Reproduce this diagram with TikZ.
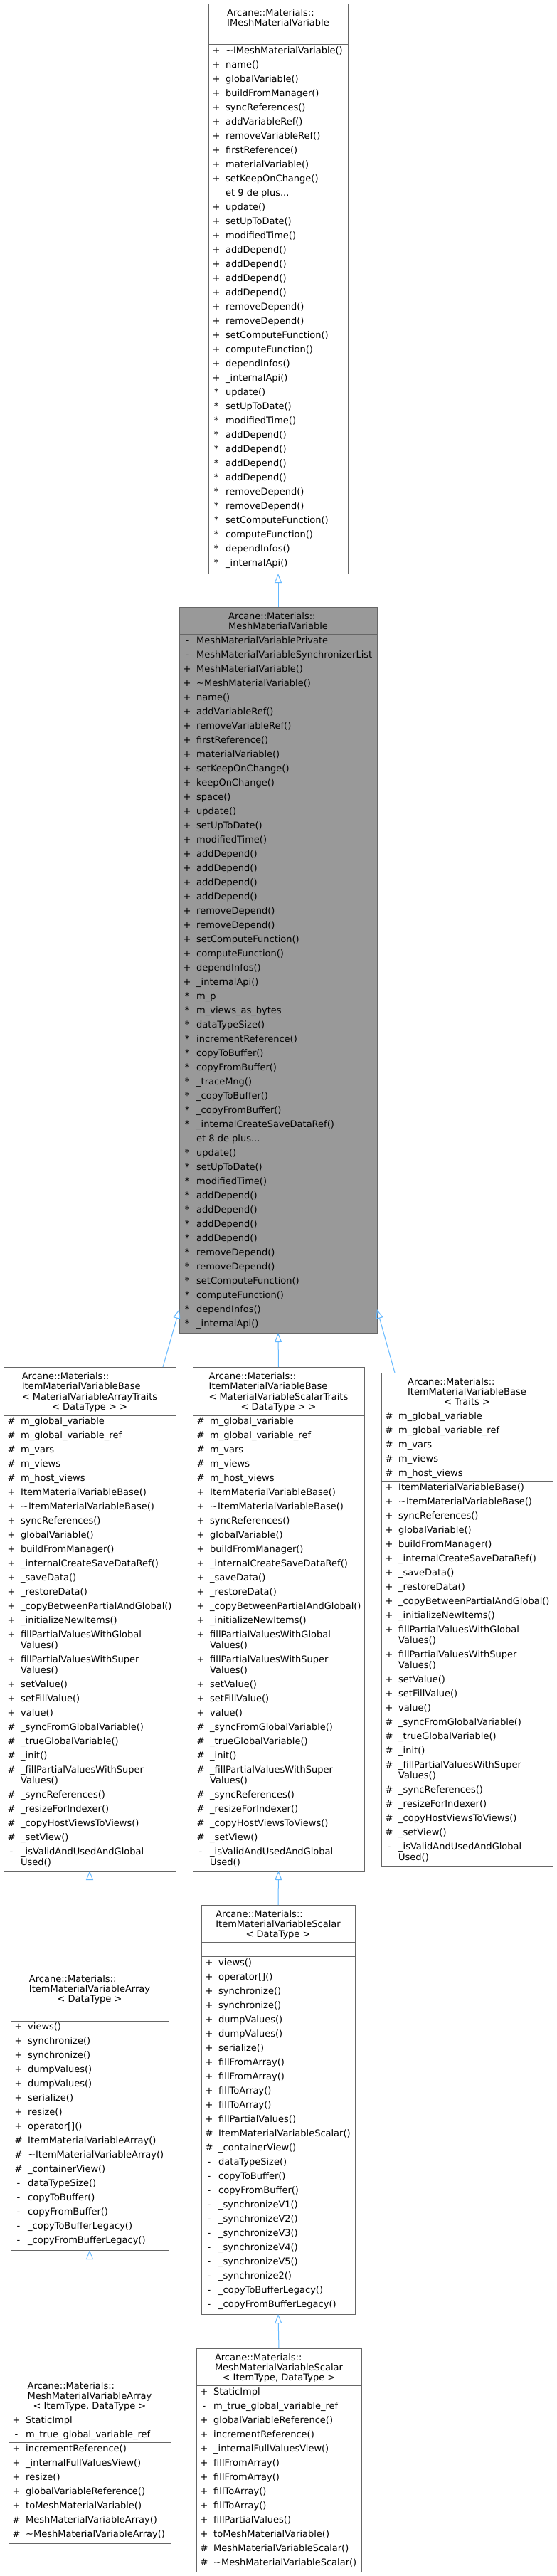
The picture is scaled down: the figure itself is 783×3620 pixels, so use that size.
\documentclass[tikz,border=0pt]{standalone}
\usepackage{fontspec}
\setmainfont{DejaVu Sans}
\usetikzlibrary{arrows.meta}
\definecolor{edgec}{HTML}{63B8FF}
\definecolor{bordc}{HTML}{666666}
\definecolor{grayf}{HTML}{999999}
\newcommand\clsfont{\fontsize{13}{14.7}\selectfont}
\newcommand\tld{\textasciitilde}
\newcount\ry
\newcount\nn
\def\rx{0}
\newcommand\rows[2]{\xdef\rx{#1}\global\ry=#2\relax}
\newcommand\mr[2]{\global\advance\nn by 1
  \node[sym] (s\the\nn) at (\rx+11,\the\ry) {#1};
  \node[txt] (t\the\nn) at (\rx+24,\the\ry) {#2};
  \global\advance\ry by 20\relax}
\newcommand\mrr[3]{\global\advance\nn by 1
  \node[sym] (s\the\nn) at (\rx+11,\the\ry) {#1};
  \node[txt] (t\the\nn) at (\rx+24,\the\ry) {#2};
  \global\advance\ry by 15\relax
  \node[txt] (u\the\nn) at (\rx+24,\the\ry) {#3};
  \global\advance\ry by 20\relax}
\newcommand\sepl[2]{\draw[sepst] ([yshift=-#2pt]#1.north west) -- ([yshift=-#2pt]#1.north east);}
\newcommand\baseattrs{\mr{\#}{m\_global\_variable}\mr{\#}{m\_global\_variable\_ref}\mr{\#}{m\_vars}\mr{\#}{m\_views}\mr{\#}{m\_host\_views}}
\newcommand\basemethods{%
\mr{+}{ItemMaterialVariableBase()}
\mr{+}{\tld ItemMaterialVariableBase()}
\mr{+}{syncReferences()}
\mr{+}{globalVariable()}
\mr{+}{buildFromManager()}
\mr{+}{\_internalCreateSaveDataRef()}
\mr{+}{\_saveData()}
\mr{+}{\_restoreData()}
\mr{+}{\_copyBetweenPartialAndGlobal()}
\mr{+}{\_initializeNewItems()}
\mrr{+}{fillPartialValuesWithGlobal}{Values()}
\mrr{+}{fillPartialValuesWithSuper}{Values()}
\mr{+}{setValue()}
\mr{+}{setFillValue()}
\mr{+}{value()}
\mr{\#}{\_syncFromGlobalVariable()}
\mr{\#}{\_trueGlobalVariable()}
\mr{\#}{\_init()}
\mrr{\#}{\_fillPartialValuesWithSuper}{Values()}
\mr{\#}{\_syncReferences()}
\mr{\#}{\_resizeForIndexer()}
\mr{\#}{\_copyHostViewsToViews()}
\mr{\#}{\_setView()}
\mrr{-}{\_isValidAndUsedAndGlobal}{Used()}
}
\newcommand\depends[1]{%
\mr{#1}{update()}
\mr{#1}{setUpToDate()}
\mr{#1}{modifiedTime()}
\mr{#1}{addDepend()}
\mr{#1}{addDepend()}
\mr{#1}{addDepend()}
\mr{#1}{addDepend()}
\mr{#1}{removeDepend()}
\mr{#1}{removeDepend()}
\mr{#1}{setComputeFunction()}
\mr{#1}{computeFunction()}
\mr{#1}{dependInfos()}
\mr{#1}{\_internalApi()}
}
\tikzset{
  box/.style={draw=bordc, line width=1pt, inner sep=0pt, outer sep=0pt, anchor=north west, fill=white},
  sepst/.style={draw=bordc, line width=1pt},
  sym/.style={inner sep=0pt, text height=9.5pt, text depth=0pt, font=\clsfont},
  txt/.style={anchor=west, inner sep=0pt, text height=9.5pt, text depth=0pt, font=\clsfont},
  ttlst/.style={anchor=north, inner sep=0pt, align=left, font=\clsfont},
  inh/.style={draw=edgec, line width=1pt, -{Triangle[open, length=13pt, width=10pt]}}
}
\begin{document}
\begin{tikzpicture}[x=1pt, y=-1pt]
\fill[white] (0,0) rectangle (783,3620);
\useasboundingbox (0,0) rectangle (783,3620);

% ---------- boxes ----------
\node[box, minimum width=196pt, minimum height=801pt] (imv) at (293,5) {};
\node[box, fill=grayf, minimum width=278pt, minimum height=1020pt] (mmv) at (252,853) {};
\node[box, minimum width=242pt, minimum height=708pt] (ba) at (5,1921) {};
\node[box, minimum width=241pt, minimum height=708pt] (bs) at (271,1921) {};
\node[box, minimum width=241pt, minimum height=693pt] (bt) at (536,1929) {};
\node[box, minimum width=222pt, minimum height=394pt] (ia) at (15,2768) {};
\node[box, minimum width=216pt, minimum height=575pt] (is) at (283,2677) {};
\node[box, minimum width=228pt, minimum height=234pt] (ma) at (12,3340) {};
\node[box, minimum width=232pt, minimum height=314pt] (ms) at (276,3300) {};

% ---------- separators ----------
\sepl{imv}{38}\sepl{imv}{57}
\sepl{mmv}{38}\sepl{mmv}{78}
\sepl{ba}{68}\sepl{ba}{168}
\sepl{bs}{68}\sepl{bs}{168}
\sepl{bt}{52}\sepl{bt}{152}
\sepl{ia}{52}\sepl{ia}{72}
\sepl{is}{52}\sepl{is}{72}
\sepl{ma}{52}\sepl{ma}{92}
\sepl{ms}{52}\sepl{ms}{92}

% ---------- titles ----------
\node[ttlst] (imvT) at ([yshift=-7pt]imv.north) {Arcane::Materials::\\IMeshMaterialVariable};
\node[ttlst] (mmvT) at ([yshift=-7pt]mmv.north) {Arcane::Materials::\\MeshMaterialVariable};
\node[ttlst] (baT) at ([yshift=-7pt]ba.north) {Arcane::Materials::\\ItemMaterialVariableBase\\< MaterialVariableArrayTraits};
\node[sym] (baC) at ([yshift=-56pt]ba.north) {< DataType > >};
\node[ttlst] (bsT) at ([yshift=-7pt]bs.north) {Arcane::Materials::\\ItemMaterialVariableBase\\< MaterialVariableScalarTraits};
\node[sym] (bsC) at ([yshift=-56pt]bs.north) {< DataType > >};
\node[ttlst] (btT) at ([yshift=-7pt]bt.north) {Arcane::Materials::\\ItemMaterialVariableBase};
\node[sym] (btC) at ([yshift=-41pt]bt.north) {< Traits >};
\node[ttlst] (iaT) at ([yshift=-7pt]ia.north) {Arcane::Materials::\\ItemMaterialVariableArray};
\node[sym] (iaC) at ([yshift=-41pt]ia.north) {< DataType >};
\node[ttlst] (isT) at ([yshift=-7pt]is.north) {Arcane::Materials::\\ItemMaterialVariableScalar};
\node[sym] (isC) at ([yshift=-41pt]is.north) {< DataType >};
\node[ttlst] (maT) at ([yshift=-7pt]ma.north) {Arcane::Materials::\\MeshMaterialVariableArray};
\node[sym] (maC) at ([yshift=-41pt]ma.north) {< ItemType, DataType >};
\node[ttlst] (msT) at ([yshift=-7pt]ms.north) {Arcane::Materials::\\MeshMaterialVariableScalar};
\node[sym] (msC) at ([yshift=-41pt]ms.north) {< ItemType, DataType >};

% ---------- IMeshMaterialVariable ----------
\rows{293}{71}
\mr{+}{\tld IMeshMaterialVariable()}
\mr{+}{name()}
\mr{+}{globalVariable()}
\mr{+}{buildFromManager()}
\mr{+}{syncReferences()}
\mr{+}{addVariableRef()}
\mr{+}{removeVariableRef()}
\mr{+}{firstReference()}
\mr{+}{materialVariable()}
\mr{+}{setKeepOnChange()}
\mr{}{et 9 de plus...}
\depends{+}
\depends{*}

% ---------- MeshMaterialVariable ----------
\rows{252}{900}
\mr{-}{MeshMaterialVariablePrivate}
\mr{-}{MeshMaterialVariableSynchronizerList}
\rows{252}{940}
\mr{+}{MeshMaterialVariable()}
\mr{+}{\tld MeshMaterialVariable()}
\mr{+}{name()}
\mr{+}{addVariableRef()}
\mr{+}{removeVariableRef()}
\mr{+}{firstReference()}
\mr{+}{materialVariable()}
\mr{+}{setKeepOnChange()}
\mr{+}{keepOnChange()}
\mr{+}{space()}
\depends{+}
\mr{*}{m\_p}
\mr{*}{m\_views\_as\_bytes}
\mr{*}{dataTypeSize()}
\mr{*}{incrementReference()}
\mr{*}{copyToBuffer()}
\mr{*}{copyFromBuffer()}
\mr{*}{\_traceMng()}
\mr{*}{\_copyToBuffer()}
\mr{*}{\_copyFromBuffer()}
\mr{*}{\_internalCreateSaveDataRef()}
\mr{}{et 8 de plus...}
\depends{*}

% ---------- ItemMaterialVariableBase boxes ----------
\rows{5}{1997}\baseattrs
\rows{5}{2097}\basemethods
\rows{271}{1997}\baseattrs
\rows{271}{2097}\basemethods
\rows{536}{1990}\baseattrs
\rows{536}{2090}\basemethods

% ---------- ItemMaterialVariableArray ----------
\rows{15}{2848}
\mr{+}{views()}
\mr{+}{synchronize()}
\mr{+}{synchronize()}
\mr{+}{dumpValues()}
\mr{+}{dumpValues()}
\mr{+}{serialize()}
\mr{+}{resize()}
\mr{+}{operator[]()}
\mr{\#}{ItemMaterialVariableArray()}
\mr{\#}{\tld ItemMaterialVariableArray()}
\mr{\#}{\_containerView()}
\mr{-}{dataTypeSize()}
\mr{-}{copyToBuffer()}
\mr{-}{copyFromBuffer()}
\mr{-}{\_copyToBufferLegacy()}
\mr{-}{\_copyFromBufferLegacy()}

% ---------- ItemMaterialVariableScalar ----------
\rows{283}{2758}
\mr{+}{views()}
\mr{+}{operator[]()}
\mr{+}{synchronize()}
\mr{+}{synchronize()}
\mr{+}{dumpValues()}
\mr{+}{dumpValues()}
\mr{+}{serialize()}
\mr{+}{fillFromArray()}
\mr{+}{fillFromArray()}
\mr{+}{fillToArray()}
\mr{+}{fillToArray()}
\mr{+}{fillPartialValues()}
\mr{\#}{ItemMaterialVariableScalar()}
\mr{\#}{\_containerView()}
\mr{-}{dataTypeSize()}
\mr{-}{copyToBuffer()}
\mr{-}{copyFromBuffer()}
\mr{-}{\_synchronizeV1()}
\mr{-}{\_synchronizeV2()}
\mr{-}{\_synchronizeV3()}
\mr{-}{\_synchronizeV4()}
\mr{-}{\_synchronizeV5()}
\mr{-}{\_synchronize2()}
\mr{-}{\_copyToBufferLegacy()}
\mr{-}{\_copyFromBufferLegacy()}

% ---------- MeshMaterialVariableArray ----------
\rows{12}{3401}
\mr{+}{StaticImpl}
\mr{-}{m\_true\_global\_variable\_ref}
\rows{12}{3441}
\mr{+}{incrementReference()}
\mr{+}{\_internalFullValuesView()}
\mr{+}{resize()}
\mr{+}{globalVariableReference()}
\mr{+}{toMeshMaterialVariable()}
\mr{\#}{MeshMaterialVariableArray()}
\mr{\#}{\tld MeshMaterialVariableArray()}

% ---------- MeshMaterialVariableScalar ----------
\rows{276}{3361}
\mr{+}{StaticImpl}
\mr{-}{m\_true\_global\_variable\_ref}
\rows{276}{3401}
\mr{+}{globalVariableReference()}
\mr{+}{incrementReference()}
\mr{+}{\_internalFullValuesView()}
\mr{+}{fillFromArray()}
\mr{+}{fillFromArray()}
\mr{+}{fillToArray()}
\mr{+}{fillToArray()}
\mr{+}{fillPartialValues()}
\mr{+}{toMeshMaterialVariable()}
\mr{\#}{MeshMaterialVariableScalar()}
\mr{\#}{\tld MeshMaterialVariableScalar()}

% ---------- inheritance arrows ----------
\draw[inh] (mmv.north) -- (imv.south);
\draw[inh] ([xshift=-18pt]ba.north east) -- ([yshift=33pt]mmv.south west);
\draw[inh] (bs.north) -- (mmv.south);
\draw[inh] ([xshift=19pt]bt.north west) -- ([yshift=33pt]mmv.south east);
\draw[inh] (ia.north) -- (ba.south);
\draw[inh] (is.north) -- (bs.south);
\draw[inh] (ma.north) -- (ia.south);
\draw[inh] (ms.north) -- (is.south);
\end{tikzpicture}
\end{document}
